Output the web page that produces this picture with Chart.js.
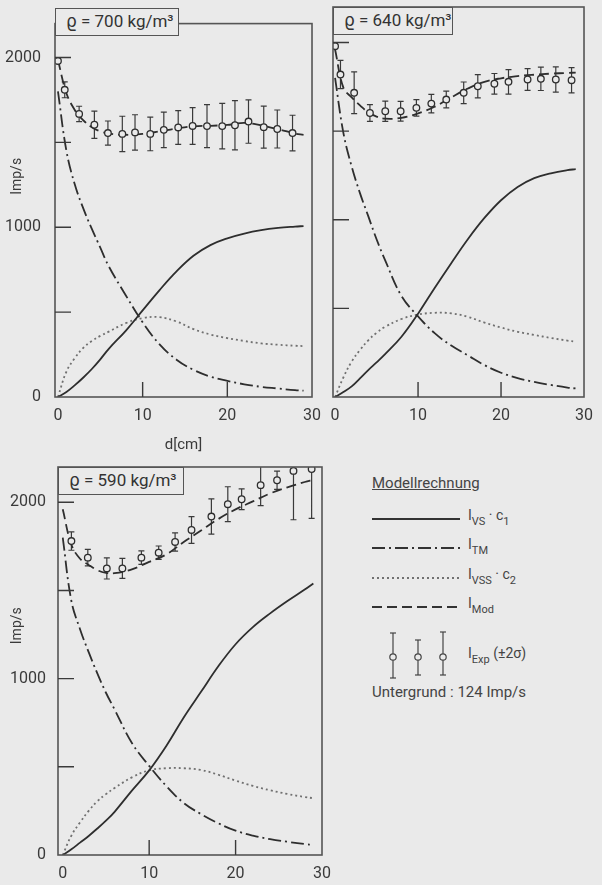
<!DOCTYPE html>
<html>
<head>
<meta charset="utf-8">
<script src="https://cdn.jsdelivr.net/npm/chart.js@4.4.0/dist/chart.umd.min.js"></script>
<style>
  html, body { margin: 0; padding: 0; background: #eaeaea; }
  body { width: 602px; height: 885px; position: relative; overflow: hidden;
         font-family: Roboto, "DejaVu Sans", sans-serif; color: #333; }
  canvas { position: absolute; }
  .tag { position: absolute; box-sizing: border-box; height: 28px; border: 1.5px solid #555;
         background: #eaeaea; font-size: 17px; line-height: 25px; padding-left: 10px; white-space: nowrap; }
  .lg { position: absolute; font-size: 14px; line-height: 16px; white-space: nowrap; color: #444; }
  .lg sub { font-size: 11px; vertical-align: -5px; }
</style>
</head>
<body>
<canvas id="p700" width="330" height="460" style="left:0;top:0"></canvas>
<canvas id="p640" width="282" height="430" style="left:320px;top:0"></canvas>
<canvas id="p590" width="340" height="445" style="left:0;top:440px"></canvas>

<div class="tag" style="left:55px;top:8px;width:124px">ϱ = 700 kg/m³</div>
<div class="tag" style="left:333px;top:7px;width:120px">ϱ = 640 kg/m³</div>
<div class="tag" style="left:58px;top:467px;width:126px">ϱ = 590 kg/m³</div>

<div class="lg" style="left:372px;top:475px;font-size:15px;text-decoration:underline">Modellrechnung</div>
<svg style="position:absolute;left:365px;top:505px" width="100" height="180">
  <g stroke="#333" stroke-width="1.8" fill="none">
    <line x1="7" x2="95" y1="14" y2="14"/>
    <line x1="7" x2="95" y1="43" y2="43" stroke-dasharray="13 4 2 4"/>
    <line x1="7" x2="95" y1="73" y2="73" stroke-dasharray="2 3" stroke="#707070"/>
    <line x1="7" x2="95" y1="102" y2="102" stroke-dasharray="10 5"/>
  </g>
  <g stroke="#444" stroke-width="1.2" fill="#eaeaea">
    <line x1="28" x2="28" y1="128" y2="173"/><line x1="25" x2="31" y1="128" y2="128"/><line x1="25" x2="31" y1="173" y2="173"/>
    <line x1="53" x2="53" y1="135" y2="170"/><line x1="50" x2="56" y1="135" y2="135"/><line x1="50" x2="56" y1="170" y2="170"/>
    <line x1="78" x2="78" y1="127" y2="170"/><line x1="75" x2="81" y1="127" y2="127"/><line x1="75" x2="81" y1="170" y2="170"/>
    <circle cx="28" cy="152" r="3.2"/><circle cx="53" cy="152" r="3.2"/><circle cx="78" cy="152" r="3.2"/>
  </g>
</svg>
<div class="lg" style="left:468px;top:507px">I<sub>VS</sub> · c<sub>1</sub></div>
<div class="lg" style="left:468px;top:536px">I<sub>TM</sub></div>
<div class="lg" style="left:468px;top:566px">I<sub>VSS</sub> · c<sub>2</sub></div>
<div class="lg" style="left:468px;top:595px">I<sub>Mod</sub></div>
<div class="lg" style="left:468px;top:645px">I<sub>Exp</sub> (±2σ)</div>
<div class="lg" style="left:372px;top:684px;font-size:15px">Untergrund : 124 Imp/s</div>

<script>
const ink = '#2e2e2e';
const paper = '#eaeaea';

// shared axes
const dGrid = [0, 1, 2, 3, 4, 5, 6, 8, 10, 12, 14, 16, 18, 20, 22, 24, 26, 28, 29];
const xTickLabels = [0, 10, 20, 30];
const xTickMarks = [10, 20];
const yTickLabels = [0, 1000, 2000];
const yTickMarks = [500, 1000, 1500, 2000];

// rho = 700 kg/m3
const vs700  = [0, 30, 70, 115, 165, 222, 284, 390, 510, 630, 740, 832, 895, 935, 963, 983, 996, 1004, 1007];
const tm700  = [1800, 1450, 1250, 1110, 990, 880, 770, 600, 440, 310, 220, 160, 120, 95, 75, 60, 50, 40, 37];
const vss700 = [0, 150, 230, 290, 330, 360, 385, 435, 465, 470, 445, 400, 368, 347, 330, 316, 308, 302, 300];
const mod700 = [1985, 1790, 1690, 1630, 1590, 1565, 1552, 1545, 1550, 1565, 1582, 1595, 1598, 1603, 1615, 1600, 1578, 1552, 1545];
const expD700 = [0, 0.8, 2.5, 4.3, 5.9, 7.6, 9.1, 10.9, 12.5, 14.2, 15.9, 17.6, 19.4, 20.9, 22.5, 24.3, 25.9, 27.7];
const expV700 = [1980, 1810, 1668, 1604, 1555, 1550, 1559, 1550, 1574, 1588, 1597, 1596, 1596, 1601, 1623, 1590, 1579, 1555];
const expE700 = [15, 47, 45, 80, 71, 104, 104, 99, 105, 99, 108, 127, 134, 145, 128, 124, 112, 105];

// rho = 640 kg/m3
const vs640  = [0, 28, 60, 105, 152, 195, 240, 340, 470, 615, 755, 890, 1010, 1110, 1185, 1235, 1262, 1280, 1285];
const tm640  = [1800, 1490, 1300, 1150, 1020, 890, 775, 570, 455, 360, 290, 235, 180, 137, 107, 85, 68, 53, 48];
const vss640 = [0, 110, 200, 265, 320, 362, 395, 440, 465, 475, 472, 452, 420, 392, 368, 350, 333, 318, 312];
const mod640 = [1960, 1745, 1690, 1645, 1605, 1582, 1570, 1575, 1600, 1637, 1690, 1740, 1778, 1798, 1810, 1818, 1824, 1828, 1830];
const expD640 = [0, 0.65, 2.3, 4.2, 6.05, 7.9, 9.8, 11.6, 13.4, 15.5, 17.2, 19.2, 20.9, 23.2, 24.8, 26.6, 28.5];
const expV640 = [1979, 1819, 1716, 1602, 1612, 1612, 1631, 1655, 1678, 1716, 1753, 1767, 1778, 1791, 1795, 1791, 1787];
const expE640 = [10, 80, 118, 47, 57, 56, 47, 52, 47, 61, 66, 58, 69, 61, 66, 71, 71];

// rho = 590 kg/m3
const vs590  = [0, 32, 70, 108, 150, 195, 245, 365, 480, 620, 780, 925, 1070, 1195, 1292, 1370, 1440, 1505, 1540];
const tm590  = [1800, 1440, 1280, 1150, 1030, 920, 825, 635, 505, 390, 295, 232, 180, 138, 110, 90, 75, 62, 57];
const vss590 = [0, 110, 185, 250, 305, 345, 380, 440, 480, 492, 492, 482, 455, 422, 392, 367, 346, 329, 322];
const mod590 = [1960, 1760, 1680, 1645, 1615, 1600, 1598, 1620, 1662, 1705, 1775, 1840, 1905, 1960, 2005, 2050, 2085, 2115, 2128];
const expD590 = [1.0, 2.9, 5.1, 6.9, 9.1, 11.1, 13.0, 14.9, 17.2, 19.1, 20.7, 22.9, 24.8, 26.7, 28.8];
const expV590 = [1780, 1686, 1625, 1625, 1686, 1714, 1775, 1843, 1919, 1989, 2017, 2097, 2125, 2178, 2188];
const expE590 = [52, 47, 60, 57, 38, 38, 52, 76, 100, 99, 59, 116, 52, 277, 279];

Chart.defaults.font.family = 'Roboto, "DejaVu Sans", sans-serif';
Chart.defaults.color = '#3a3a3a';

// frame box, inward tick marks, error bars, y title
const framePlugin = {
  id: 'frame',
  beforeDatasetsDraw(chart) {
    const { ctx, chartArea: a, scales: { x, y } } = chart;
    ctx.save();
    ctx.beginPath();
    ctx.rect(a.left, a.top, a.right - a.left, a.bottom - a.top);
    ctx.clip();
    ctx.strokeStyle = '#3a3a3a';
    ctx.lineWidth = 1.2;
    chart.data.datasets.forEach(ds => {
      if (!ds.err) return;
      ctx.beginPath();
      ds.data.forEach((p, i) => {
        const px = x.getPixelForValue(p.x);
        const t = y.getPixelForValue(p.y + ds.err[i]);
        const b = y.getPixelForValue(p.y - ds.err[i]);
        ctx.moveTo(px, t); ctx.lineTo(px, b);
        ctx.moveTo(px - 3, t); ctx.lineTo(px + 3, t);
        ctx.moveTo(px - 3, b); ctx.lineTo(px + 3, b);
      });
      ctx.stroke();
    });
    ctx.restore();
  },
  afterDraw(chart, args, opts) {
    const { ctx, chartArea: a, scales: { x, y } } = chart;
    ctx.save();
    ctx.strokeStyle = '#555';
    ctx.lineWidth = 1.6;
    ctx.strokeRect(a.left, a.top, a.right - a.left, a.bottom - a.top);
    ctx.strokeStyle = '#3a3a3a';
    ctx.lineWidth = 1.4;
    ctx.beginPath();
    yTickMarks.forEach(v => {
      const py = y.getPixelForValue(v);
      ctx.moveTo(a.left, py); ctx.lineTo(a.left + 16, py);
    });
    xTickMarks.forEach(v => {
      const px = x.getPixelForValue(v);
      ctx.moveTo(px, a.bottom); ctx.lineTo(px, a.bottom - 15);
    });
    ctx.stroke();
    if (opts.yTitle) {
      ctx.fillStyle = '#3a3a3a';
      ctx.font = '14px Roboto, sans-serif';
      ctx.textAlign = 'center';
      ctx.textBaseline = 'middle';
      ctx.translate(17, y.getPixelForValue(opts.yTitle));
      ctx.rotate(-Math.PI / 2);
      ctx.fillText('Imp/s', 0, 0);
    }
    ctx.restore();
  }
};

function pts(d, v) {
  return d.map((xv, i) => ({ x: xv, y: v[i] }));
}

function curve(vals, dash, color) {
  return {
    data: pts(dGrid, vals), showLine: true, pointRadius: 0, fill: false,
    borderColor: color, borderWidth: 1.8, borderDash: dash, tension: 0.4
  };
}

function panel(id, p) {
  new Chart(document.getElementById(id), {
    type: 'scatter',
    data: {
      datasets: [
        { data: pts(p.expD, p.expV), err: p.expE, showLine: false, pointRadius: 3.3,
          pointBorderWidth: 1.3, pointBorderColor: ink, pointBackgroundColor: paper },
        curve(p.mod, [10, 5], ink),
        curve(p.vs, [], ink),
        curve(p.tm, [13, 4, 2, 4], ink),
        curve(p.vss, [2, 3], '#707070')
      ]
    },
    options: {
      responsive: false,
      animation: false,
      events: [],
      layout: { padding: p.pad },
      plugins: { legend: { display: false }, tooltip: { enabled: false }, frame: { yTitle: p.yTitle } },
      scales: {
        x: {
          type: 'linear', min: p.xMin, max: 30,
          grid: { display: false, drawTicks: false }, border: { display: false },
          afterBuildTicks: s => { s.ticks = xTickLabels.map(v => ({ value: v })); },
          afterFit: s => { s.height = p.xh; },
          ticks: { padding: 9, font: { size: 16 }, callback: v => String(v) },
          title: { display: !!p.xTitle, text: 'd[cm]', font: { size: 15 }, padding: { top: 0, bottom: 6 } }
        },
        y: {
          type: 'linear', min: 0, max: 2200, display: p.yw > 0,
          grid: { display: false, drawTicks: false }, border: { display: false },
          afterBuildTicks: s => { s.ticks = yTickLabels.map(v => ({ value: v })); },
          afterFit: s => { s.width = p.yw; },
          ticks: { padding: p.yPad, font: { size: 16 }, callback: v => String(v) }
        }
      }
    },
    plugins: [framePlugin]
  });
}

panel('p700', {
  vs: vs700, tm: tm700, vss: vss700, mod: mod700, expD: expD700, expV: expV700, expE: expE700,
  pad: { top: 8, right: 13, left: 0, bottom: 0 }, xh: 63, yw: 55, yPad: 14, xMin: -0.35,
  xTitle: true, yTitle: 1300
});
panel('p640', {
  vs: vs640, tm: tm640, vss: vss640, mod: mod640, expD: expD640, expV: expV640, expE: expE640,
  pad: { top: 7, right: 7, left: 13, bottom: 0 }, xh: 33, yw: 0, yPad: 0, xMin: -0.25,
  xTitle: false, yTitle: 0
});
panel('p590', {
  vs: vs590, tm: tm590, vss: vss590, mod: mod590, expD: expD590, expV: expV590, expE: expE590,
  pad: { top: 27, right: 18, left: 0, bottom: 0 }, xh: 30, yw: 58, yPad: 12, xMin: -0.55,
  xTitle: false, yTitle: 1300
});
</script>
</body>
</html>
